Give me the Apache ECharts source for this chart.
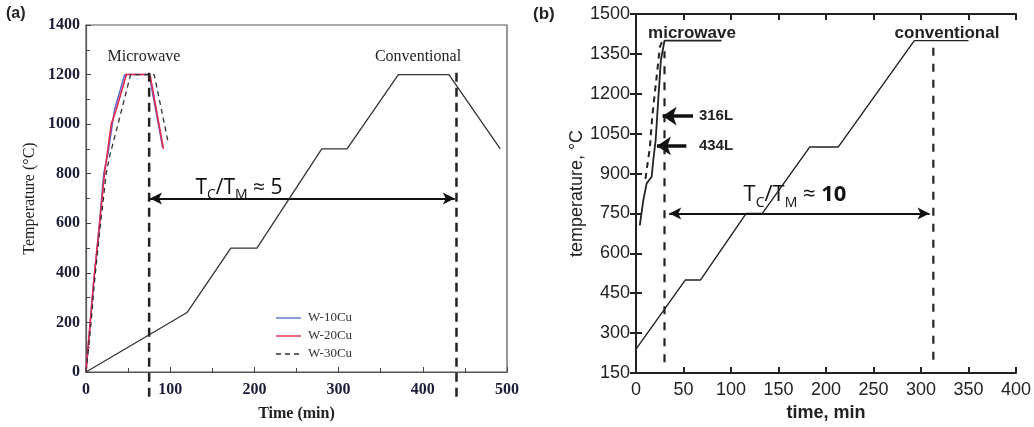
<!DOCTYPE html>
<html>
<head>
<meta charset="utf-8">
<script src="https://cdn.jsdelivr.net/npm/echarts@6/dist/echarts.min.js"></script>
<style>
  html, body { margin: 0; padding: 0; background: #fff; }
  #chart { width: 1034px; height: 427px; }
</style>
</head>
<body>
<div id="chart"></div>
<script>
// ---- panel (a) : W-Cu ----
var timeA_conv = [0, 120, 172, 203, 280, 310, 371, 431, 492];
var tempA_conv = [0, 240, 500, 500, 900, 900, 1200, 1200, 900];

var timeA_w10 = [0, 4, 9, 15, 21, 26, 34, 46, 75, 91];
var tempA_w10 = [0, 160, 360, 560, 800, 880, 1060, 1200, 1200, 905];
var timeA_w20 = [0, 4, 9, 15, 22, 30, 36, 48, 76, 92];
var tempA_w20 = [0, 160, 360, 560, 800, 1000, 1060, 1200, 1200, 900];
var timeA_w30 = [0, 5, 10, 16, 24, 28, 38, 53, 81, 98];
var tempA_w30 = [0, 160, 360, 560, 800, 870, 1000, 1200, 1200, 920];

var markA_time = [75, 440];          // microwave / conventional end
var markA_temp = [-100, 1230];
var arrowA = { from: 76, to: 438, temp: 700 };

// ---- panel (b) : 316L / 434L ----
var timeB_conv = [0, 52, 68, 116, 133, 183, 213, 293, 350];
var tempB_conv = [240, 500, 500, 750, 750, 1000, 1000, 1400, 1400];

var timeB_316 = [4, 7.7, 11.2, 16.5, 18.2, 20.7, 23.4, 26.2, 30, 90];
var tempB_316 = [705, 800, 863, 888, 951, 1026, 1177, 1327, 1400, 1400];
var timeB_434 = [10, 11.2, 14.7, 17.1, 21.7, 25.2, 28];
var tempB_434 = [880, 913, 1001, 1114, 1264, 1377, 1400];

var markB_time = [30, 313];
var markB_temp = [[190, 1360], [200, 1390]];
var arrowB = { from: 35, to: 309, temp: 750 };
var pointerB = [
    { name: '316L', from: 60, to: 28, temp: 1116 },
    { name: '434L', from: 53, to: 22, temp: 1004 }
];

var legendA = [
    { name: 'W-10Cu', color: '#5b6fd6', dash: null },
    { name: 'W-20Cu', color: '#e8274b', dash: null },
    { name: 'W-30Cu', color: '#333', dash: [5, 4] }
];

function pairs(xs, ys) {
    var out = [];
    for (var i = 0; i < xs.length; i++) {
        out.push([xs[i], ys[i]]);
    }
    return out;
}

var serif = 'Liberation Serif';
var sans = 'Liberation Sans';

var axisA = {
    lineStyle: { color: '#555', width: 1.2 }
};
var axisB = {
    lineStyle: { color: '#222', width: 2 }
};

var series = [];

// panel (a)
series.push({
    name: 'conventionalA', type: 'line', xAxisIndex: 0, yAxisIndex: 0,
    data: pairs(timeA_conv, tempA_conv), symbol: 'none',
    lineStyle: { color: '#333', width: 1.3 }
});
series.push({
    name: 'W-10Cu', type: 'line', xAxisIndex: 0, yAxisIndex: 0,
    data: pairs(timeA_w10, tempA_w10), symbol: 'none',
    lineStyle: { color: legendA[0].color, width: 1.5 }
});
series.push({
    name: 'W-20Cu', type: 'line', xAxisIndex: 0, yAxisIndex: 0,
    data: pairs(timeA_w20, tempA_w20), symbol: 'none',
    lineStyle: { color: legendA[1].color, width: 1.6 }
});
series.push({
    name: 'W-30Cu', type: 'line', xAxisIndex: 0, yAxisIndex: 0,
    data: pairs(timeA_w30, tempA_w30), symbol: 'none',
    lineStyle: { color: legendA[2].color, width: 1.3, type: legendA[2].dash }
});
for (var i = 0; i < markA_time.length; i++) {
    var s = {
        name: 'endA' + i, type: 'line', xAxisIndex: 0, yAxisIndex: 0, clip: false,
        data: [[markA_time[i], markA_temp[0]], [markA_time[i], markA_temp[1]]], symbol: 'none',
        lineStyle: { color: '#222', width: 2.5, type: [9, 6] }
    };
    if (i === 0) {
        s.markLine = {
            silent: true, symbol: ['arrow', 'arrow'], symbolSize: [9, 12],
            label: { show: false },
            lineStyle: { color: '#111', width: 2, type: 'solid' },
            data: [[{ coord: [arrowA.from, arrowA.temp] }, { coord: [arrowA.to, arrowA.temp] }]]
        };
    }
    series.push(s);
}

// panel (b)
series.push({
    name: 'conventionalB', type: 'line', xAxisIndex: 1, yAxisIndex: 1,
    data: pairs(timeB_conv, tempB_conv), symbol: 'none',
    lineStyle: { color: '#222', width: 1.4 }
});
series.push({
    name: '316L', type: 'line', xAxisIndex: 1, yAxisIndex: 1,
    data: pairs(timeB_316, tempB_316), symbol: 'none',
    lineStyle: { color: '#222', width: 1.8 }
});
series.push({
    name: '434L', type: 'line', xAxisIndex: 1, yAxisIndex: 1,
    data: pairs(timeB_434, tempB_434), symbol: 'none',
    lineStyle: { color: '#222', width: 2, type: [6, 5] }
});
var pointerLines = [];
for (var k = 0; k < pointerB.length; k++) {
    pointerLines.push([{ coord: [pointerB[k].from, pointerB[k].temp] }, { coord: [pointerB[k].to, pointerB[k].temp] }]);
}
for (var j = 0; j < markB_time.length; j++) {
    var sb = {
        name: 'endB' + j, type: 'line', xAxisIndex: 1, yAxisIndex: 1,
        data: [[markB_time[j], markB_temp[j][0]], [markB_time[j], markB_temp[j][1]]], symbol: 'none',
        lineStyle: { color: '#222', width: 2.2, type: [8, 8] }
    };
    if (j === 0) {
        sb.markLine = {
            silent: true, symbol: ['arrow', 'arrow'], symbolSize: [9, 12],
            label: { show: false },
            lineStyle: { color: '#111', width: 2, type: 'solid' },
            data: [[{ coord: [arrowB.from, arrowB.temp] }, { coord: [arrowB.to, arrowB.temp] }]]
        };
    } else {
        sb.markLine = {
            silent: true, symbol: ['none', 'arrow'], symbolSize: [14, 14],
            label: { show: false },
            lineStyle: { color: '#111', width: 3.5, type: 'solid' },
            data: pointerLines
        };
    }
    series.push(sb);
}

function plain(v) { return String(v); }

var graphics = [
    { type: 'text', left: 6, top: 6, style: { text: '(a)', font: 'bold 16px ' + sans, fill: '#222' } },
    { type: 'text', left: 533, top: 6, style: { text: '(b)', font: 'bold 17px ' + sans, fill: '#222' } },
    { type: 'text', x: 144, y: 57, style: { text: 'Microwave', font: '16px ' + serif, fill: '#222', align: 'center', verticalAlign: 'middle' } },
    { type: 'text', x: 418, y: 57, style: { text: 'Conventional', font: '16px ' + serif, fill: '#222', align: 'center', verticalAlign: 'middle' } },
    { type: 'text', x: 692, y: 33, style: { text: 'microwave', font: 'bold 17px ' + sans, fill: '#222', align: 'center', verticalAlign: 'middle' } },
    { type: 'text', x: 947, y: 33, style: { text: 'conventional', font: 'bold 17px ' + sans, fill: '#222', align: 'center', verticalAlign: 'middle' } },
    { type: 'text', x: 716, y: 116, style: { text: '316L', font: 'bold 15px ' + sans, fill: '#222', align: 'center', verticalAlign: 'middle' } },
    { type: 'text', x: 716, y: 146, style: { text: '434L', font: 'bold 15px ' + sans, fill: '#222', align: 'center', verticalAlign: 'middle' } },
    {
        type: 'text', x: 239, y: 190,
        style: {
            text: '{a|T}{s|C}{a|/T}{s|M}{a| ≈ 5}', align: 'center', verticalAlign: 'middle', fill: '#111',
            rich: {
                a: { fontFamily: 'Open Sans', fontSize: 21, verticalAlign: 'bottom', padding: [0, 0, 4, 0] },
                s: { fontFamily: 'Open Sans', fontSize: 14, verticalAlign: 'bottom' }
            }
        }
    },
    {
        type: 'text', x: 795, y: 197,
        style: {
            text: '{a|T}{s|C}{a|/T}{s|M}{a| ≈ }{b|10}', align: 'center', verticalAlign: 'middle', fill: '#111',
            rich: {
                a: { fontFamily: 'Open Sans', fontSize: 22, verticalAlign: 'bottom', padding: [0, 0, 4, 0] },
                b: { fontFamily: 'Open Sans', fontSize: 22, fontWeight: 'bold', verticalAlign: 'bottom', padding: [0, 0, 4, 0] },
                s: { fontFamily: 'Open Sans', fontSize: 14, verticalAlign: 'bottom' }
            }
        }
    }
];

// legend of panel (a), drawn by hand so the dashed key stays dashed
for (var m = 0; m < legendA.length; m++) {
    var ly = 318 + m * 18;
    graphics.push({
        type: 'line', shape: { x1: 276, y1: ly, x2: 301, y2: ly },
        style: { stroke: legendA[m].color, lineWidth: 1.4, lineDash: legendA[m].dash }
    });
    graphics.push({
        type: 'text', x: 308, y: ly,
        style: { text: legendA[m].name, font: '13px ' + serif, fill: '#333', verticalAlign: 'middle' }
    });
}

var option = {
    backgroundColor: '#fff',
    animation: false,
    grid: [
        { left: 86, top: 25, width: 421, height: 347, show: true, borderColor: '#555', borderWidth: 1.2 },
        { left: 636, top: 14, width: 381, height: 359 }
    ],
    xAxis: [
        {
            gridIndex: 0, type: 'value', min: 0, max: 500, interval: 100,
            name: 'Time (min)', nameLocation: 'middle', nameGap: 34,
            nameTextStyle: { fontFamily: serif, fontSize: 16, fontWeight: 'bold', color: '#222' },
            axisLine: axisA,
            axisTick: { inside: true, length: 5, lineStyle: { color: '#444' } },
            minorTick: { show: true, splitNumber: 2, length: 4, lineStyle: { color: '#444' } },
            axisLabel: { margin: 10, fontFamily: serif, fontSize: 16, fontWeight: 'bold', color: '#1c1c38', formatter: plain },
            splitLine: { show: false }
        },
        {
            gridIndex: 1, type: 'value', min: 0, max: 400, interval: 50,
            name: 'time, min', nameLocation: 'middle', nameGap: 29,
            nameTextStyle: { fontFamily: sans, fontSize: 18, fontWeight: 'bold', color: '#222' },
            axisLine: axisB,
            axisTick: { inside: true, length: 6, lineStyle: { color: '#222', width: 2 } },
            axisLabel: { margin: 8, fontFamily: sans, fontSize: 18, color: '#222', formatter: plain },
            splitLine: { show: false }
        },
        {
            gridIndex: 1, type: 'value', min: 0, max: 400, interval: 50, position: 'top',
            axisLine: axisB,
            axisTick: { inside: true, length: 6, lineStyle: { color: '#222', width: 2 } },
            axisLabel: { show: false },
            splitLine: { show: false }
        }
    ],
    yAxis: [
        {
            gridIndex: 0, type: 'value', min: 0, max: 1400, interval: 200,
            name: 'Temperature (°C)', nameLocation: 'middle', nameGap: 48,
            nameTextStyle: { fontFamily: serif, fontSize: 16, color: '#222' },
            axisLine: axisA,
            axisTick: { inside: true, length: 5, lineStyle: { color: '#444' } },
            minorTick: { show: true, splitNumber: 2, length: 4, lineStyle: { color: '#444' } },
            axisLabel: { margin: 6, fontFamily: serif, fontSize: 16, fontWeight: 'bold', color: '#1c1c38', formatter: plain },
            splitLine: { show: false }
        },
        {
            gridIndex: 1, type: 'value', min: 150, max: 1500, interval: 150,
            name: 'temperature, °C', nameLocation: 'middle', nameGap: 50,
            nameTextStyle: { fontFamily: sans, fontSize: 18, color: '#222' },
            axisLine: axisB,
            axisTick: { inside: true, length: 6, lineStyle: { color: '#222', width: 2 } },
            axisLabel: { margin: 6, fontFamily: sans, fontSize: 18, color: '#222', formatter: plain },
            splitLine: { show: false }
        },
        {
            gridIndex: 1, type: 'value', min: 150, max: 1500, interval: 150, position: 'right',
            axisLine: axisB,
            axisTick: { inside: true, length: 6, lineStyle: { color: '#222', width: 2 } },
            axisLabel: { show: false },
            splitLine: { show: false }
        }
    ],
    graphic: graphics,
    series: series
};

var myChart = echarts.init(document.getElementById('chart'));
myChart.setOption(option);
</script>
</body>
</html>
